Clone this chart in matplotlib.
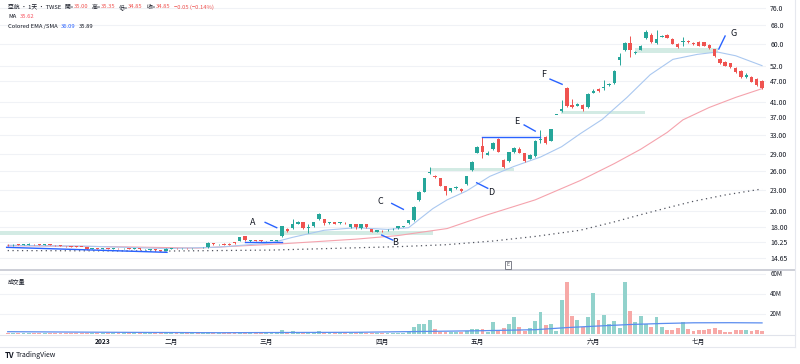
import matplotlib
matplotlib.use('Agg')
import matplotlib.pyplot as plt
from matplotlib.ticker import NullLocator
from matplotlib.patches import Rectangle
from matplotlib.lines import Line2D
import numpy as np

plt.rcParams['font.family'] = ['Noto Sans CJK TC', 'DejaVu Sans']

# daily candles (bar index 0 = mid December 2022)
opens = [16.00, 15.95, 16.00, 15.98, 16.00, 16.10, 16.05, 16.00, 16.05, 15.98,
         15.95, 15.88, 15.84, 15.80, 15.78, 15.74, 15.55, 15.62, 15.58, 15.60,
         15.58, 15.65, 15.62, 15.66, 15.55, 15.62, 15.52, 15.45, 15.52, 15.45,
         15.40, 15.58, 15.66, 15.64, 15.65, 15.62, 15.66, 15.65, 15.72, 16.15,
         16.05, 16.10, 16.12, 16.25, 16.45, 16.90, 16.35, 16.45, 16.50, 16.38,
         16.40, 16.42, 16.90, 17.75, 17.85, 18.35, 18.55, 17.85, 18.10, 18.90,
         18.95, 18.45, 18.55, 18.45, 18.50, 17.95, 18.30, 17.85, 18.35, 17.70,
         17.45, 17.55, 17.60, 17.70, 17.85, 18.00, 18.45, 18.80, 21.50, 22.70,
         25.60, 25.15, 24.85, 23.50, 22.80, 23.25, 23.10, 23.80, 26.15, 29.30,
         30.70, 28.95, 30.00, 32.00, 27.95, 27.75, 29.40, 30.00, 29.20, 28.20,
         28.60, 31.90, 32.60, 31.70, 37.60, 38.60, 45.00, 40.10, 40.00, 40.10,
         39.50, 43.50, 44.60, 44.90, 45.80, 46.30, 54.00, 57.60, 60.40, 56.40,
         57.80, 62.30, 63.60, 60.50, 63.00, 63.60, 62.00, 60.00, 60.70, 61.30,
         60.50, 60.60, 60.60, 59.60, 57.90, 54.30, 53.40, 52.80, 51.10, 50.20,
         48.30, 48.40, 47.50, 47.00]
highs = [16.05, 16.05, 16.05, 16.05, 16.15, 16.12, 16.08, 16.08, 16.06, 16.00,
         15.98, 15.90, 15.86, 15.82, 15.80, 15.76, 15.66, 15.64, 15.62, 15.62,
         15.68, 15.66, 15.68, 15.67, 15.62, 15.64, 15.60, 15.52, 15.54, 15.48,
         15.62, 15.70, 15.70, 15.68, 15.68, 15.68, 15.70, 15.72, 16.25, 16.18,
         16.12, 16.15, 16.20, 16.30, 16.85, 16.95, 16.55, 16.50, 16.55, 16.45,
         16.45, 16.48, 18.15, 17.85, 19.00, 18.70, 18.60, 18.30, 18.60, 19.70,
         19.00, 18.60, 18.60, 18.60, 18.55, 18.35, 18.35, 18.40, 18.40, 17.80,
         17.65, 17.60, 17.75, 17.85, 18.15, 18.10, 18.85, 20.60, 22.80, 24.90,
         26.70, 25.30, 24.90, 23.60, 23.30, 23.60, 23.20, 25.20, 27.70, 30.60,
         32.60, 29.60, 31.40, 32.20, 28.10, 29.50, 30.50, 30.40, 29.30, 29.00,
         31.80, 34.10, 32.80, 34.30, 37.60, 41.40, 45.20, 41.80, 40.80, 40.30,
         43.30, 44.60, 44.80, 47.40, 46.30, 50.40, 56.50, 60.80, 63.30, 57.40,
         59.60, 65.90, 64.50, 65.70, 63.80, 63.90, 62.30, 60.20, 62.60, 61.60,
         60.70, 61.00, 60.90, 59.90, 58.20, 54.60, 53.70, 53.00, 51.40, 50.50,
         49.50, 48.60, 47.80, 47.20]
lows = [15.90, 15.90, 15.95, 15.95, 15.98, 16.00, 15.98, 15.98, 15.95, 15.92,
        15.85, 15.80, 15.76, 15.75, 15.72, 15.50, 15.52, 15.55, 15.54, 15.55,
        15.56, 15.58, 15.60, 15.52, 15.53, 15.50, 15.50, 15.43, 15.38, 15.36,
        15.38, 15.55, 15.60, 15.60, 15.60, 15.60, 15.62, 15.62, 15.70, 16.02,
        16.00, 15.95, 15.98, 16.10, 16.40, 16.45, 16.30, 16.35, 16.32, 16.32,
        16.35, 16.38, 16.85, 17.45, 17.80, 18.30, 17.80, 17.30, 18.00, 18.85,
        18.20, 18.35, 18.35, 18.40, 18.35, 17.90, 17.70, 17.80, 17.90, 17.35,
        17.40, 17.40, 17.55, 17.65, 17.80, 17.95, 18.40, 18.70, 21.40, 22.60,
        25.50, 24.90, 23.50, 22.20, 22.70, 23.10, 22.70, 23.70, 26.00, 29.20,
        28.30, 28.80, 29.90, 29.40, 26.60, 27.60, 29.30, 29.20, 27.60, 28.10,
        28.50, 31.30, 31.00, 31.60, 37.60, 38.40, 39.70, 39.30, 39.80, 38.60,
        39.30, 43.30, 43.70, 44.30, 45.60, 46.10, 52.20, 57.40, 55.20, 56.00,
        57.50, 62.00, 60.50, 59.90, 62.70, 62.20, 59.80, 58.50, 59.30, 60.40,
        59.70, 59.10, 59.10, 58.00, 55.00, 52.50, 51.80, 51.10, 49.60, 48.10,
        48.00, 46.60, 45.60, 44.60]
closes = [15.95, 16.00, 15.98, 16.00, 16.12, 16.05, 16.00, 16.05, 15.98, 15.95,
          15.88, 15.84, 15.80, 15.78, 15.76, 15.55, 15.62, 15.58, 15.60, 15.58,
          15.65, 15.62, 15.66, 15.55, 15.60, 15.52, 15.58, 15.50, 15.42, 15.38,
          15.58, 15.66, 15.64, 15.65, 15.62, 15.66, 15.65, 15.70, 16.15, 16.05,
          16.08, 16.00, 16.02, 16.15, 16.80, 16.48, 16.50, 16.40, 16.35, 16.40,
          16.42, 16.45, 18.10, 17.55, 18.30, 18.55, 17.85, 17.95, 18.55, 19.55,
          18.45, 18.55, 18.40, 18.52, 18.42, 18.30, 17.95, 18.35, 17.95, 17.40,
          17.60, 17.48, 17.68, 17.78, 18.05, 18.05, 18.80, 20.50, 22.70, 24.85,
          25.87, 24.95, 23.55, 22.85, 23.25, 23.30, 22.85, 25.15, 27.60, 30.50,
          29.40, 29.35, 31.30, 29.50, 26.75, 29.40, 30.30, 29.35, 27.80, 28.80,
          31.70, 32.10, 31.25, 34.20, 37.60, 39.00, 39.90, 39.50, 40.40, 39.00,
          43.10, 44.10, 44.00, 45.30, 46.10, 50.20, 55.20, 60.50, 57.80, 57.00,
          59.30, 65.00, 60.90, 62.00, 63.30, 62.40, 60.00, 58.70, 61.00, 60.70,
          59.90, 59.30, 59.30, 58.30, 55.40, 52.80, 52.00, 51.40, 49.80, 48.40,
          48.90, 46.80, 45.80, 44.80]
# volume in millions of shares
volumes = [0.6, 0.5, 0.4, 0.5, 0.7, 0.5, 0.4, 0.5, 0.4, 0.4,
           0.5, 0.4, 0.4, 0.3, 0.3, 0.8, 0.5, 0.4, 0.3, 0.3,
           0.4, 0.3, 0.4, 0.5, 0.3, 0.5, 0.3, 0.4, 0.6, 0.6,
           0.7, 0.5, 0.3, 0.3, 0.3, 0.3, 0.3, 0.4, 1.5, 0.8,
           0.5, 0.6, 0.6, 0.7, 2.0, 1.5, 0.8, 0.5, 0.6, 0.4,
           0.4, 0.5, 3.5, 1.5, 2.5, 1.5, 2.0, 1.2, 1.2, 2.5,
           1.5, 0.8, 0.8, 0.7, 0.7, 0.8, 0.9, 1.6, 0.8, 0.9,
           0.6, 0.6, 0.5, 0.6, 0.6, 0.7, 1.7, 6.8, 10.0, 10.0,
           13.3, 4.9, 1.6, 1.6, 1.6, 1.6, 1.6, 2.6, 4.9, 4.2,
           4.2, 1.6, 11.4, 3.6, 5.2, 10.0, 17.0, 6.8, 2.6, 5.2,
           13.0, 21.5, 9.0, 10.0, 2.6, 33.5, 52.0, 18.0, 13.3, 6.5,
           16.3, 41.0, 14.0, 18.9, 9.8, 13.0, 5.2, 52.0, 23.0, 11.4,
           17.9, 9.8, 6.5, 17.0, 6.8, 3.6, 3.6, 5.2, 11.4, 4.9,
           2.6, 3.6, 3.6, 4.9, 5.9, 3.6, 2.0, 2.0, 3.3, 3.3,
           3.9, 2.6, 3.6, 2.6]

month_idx = [18, 31, 49, 71, 89, 111, 131]
month_labels = ['2023', '二月', '三月', '四月', '五月', '六月', '七月']

price_ticks = [14.65, 16.25, 18.0, 20.0, 23.0, 26.0, 29.0, 33.0, 37.0, 41.0, 47.0, 52.0, 60.0, 68.0, 76.0]
price_labels = ['14.65', '16.25', '18.00', '20.00', '23.00', '26.00', '29.00', '33.00',
                '37.00', '41.00', '47.00', '52.0', '60.0', '68.0', '76.0']
vol_ticks = [20, 40, 60]
vol_labels = ['20M', '40M', '60M']

# indicator lines
ema_idx = [0, 15, 30, 40, 50, 54, 60, 66, 72, 76, 80.6, 83.3, 87, 91.4, 96, 101, 105,
           108.5, 112.7, 117.4, 121.8, 126.1, 130.7, 134.5, 138, 143]
ema_vals = [15.95, 15.85, 15.6, 15.75, 16.2, 16.8, 17.6, 17.9, 17.7, 17.9, 20.3, 21.5, 22.8,
            25.1, 26.8, 28.5, 30.5, 33.2, 36.5, 42.2, 49.0, 54.2, 56.0, 56.9, 55.5, 52.0]
ma_idx = [0, 20, 36, 52, 66, 74, 83.3, 91, 100, 108.5, 115, 120, 125, 128, 133, 138, 143]
ma_vals = [15.9, 15.8, 15.65, 16.1, 16.6, 17.0, 17.8, 19.5, 21.5, 24.4, 27.3, 30.0, 33.5,
           36.4, 39.5, 42.2, 44.7]
slow_idx = [0, 30, 50, 74, 83, 92, 100, 108.5, 115, 120, 125, 130, 136, 143]
slow_vals = [15.4, 15.35, 15.45, 15.8, 16.0, 16.4, 16.9, 17.6, 18.6, 19.5, 20.4, 21.3, 22.2, 23.1]
vma_idx = [0, 20, 40, 52, 66, 78, 90, 100, 106, 112, 118, 124, 130, 137, 143]
vma_vals = [1.8, 1.2, 0.8, 1.0, 1.2, 2.0, 2.8, 3.8, 5.9, 7.5, 9.0, 10.0, 10.7, 10.8, 10.6]

# drawn zones / lines / labels
zone_x0 = [-1.5, 80, 104.8, 119]
zone_x1 = [80.6, 96, 120.8, 134.7]
zone_lo = [17.1, 26.0, 37.8, 56.4]
zone_hi = [17.55, 26.6, 38.7, 58.3]
trend_x = [[-0.2, 30.2], [45, 52], [90, 101]]
trend_y = [[15.73, 15.22], [16.3, 16.3], [32.6, 32.6]]
letters = ['A', 'B', 'C', 'D', 'E', 'F', 'G']
letter_x = [46.5, 73.4, 70.6, 91.6, 96.5, 101.5, 137.6]
letter_y = [18.54, 16.25, 21.33, 22.6, 36.1, 49.1, 64.3]
pointer_x = [[48.8, 51.0], [70.9, 73.0], [72.8, 75.0], [88.9, 91.0], [97.9, 100.0], [102.8, 105.1], [136.0, 134.8]]
pointer_y = [[18.54, 17.9], [17.05, 16.5], [21.0, 20.2], [24.06, 23.2], [35.2, 33.8], [47.6, 46.0], [63.2, 58.0]]

UP = '#26a69a'
DOWN = '#ef5350'
TXT = '#131722'
W, H = 800, 364
HDR = 4.2


def fx(x):
    return x / W


def fy(y):
    return 1 - y / H


fig = plt.figure(figsize=(8, 3.64), dpi=100)
ax = fig.add_axes([0, fy(268), fx(766), (268 - 2) / H])
axv = fig.add_axes([0, fy(333.5), fx(766), (333.5 - 271) / H], sharex=ax)

o = np.array(opens)
h = np.array(highs)
l = np.array(lows)
c = np.array(closes)
idx = np.arange(len(c))
up = c >= o
cols = np.where(up, UP, DOWN)

ax.set_yscale('log')
for x0, x1, lo, hi in zip(zone_x0, zone_x1, zone_lo, zone_hi):
    ax.add_patch(Rectangle((x0, lo), x1 - x0, hi - lo, facecolor='#d3ebe4', edgecolor='none', zorder=1))

ax.plot(slow_idx, slow_vals, color='#50535e', lw=0.9, linestyle=(0, (1, 2.8)), zorder=2)
ax.plot(ma_idx, ma_vals, color='#f5a3ad', lw=0.8, zorder=2)
ax.plot(ema_idx, ema_vals, color='#aac8f0', lw=0.8, zorder=2)

body_lo = np.minimum(o, c)
body_h = np.maximum(np.abs(c - o), body_lo * 0.004)
ax.vlines(idx, l, h, colors=cols, lw=0.7, zorder=3)
ax.bar(idx, body_h, bottom=body_lo, width=0.64, color=cols, linewidth=0, zorder=4)

for xs, ys in zip(trend_x, trend_y):
    ax.plot(xs, ys, color='#2962ff', lw=1.0, zorder=5)
for xs, ys in zip(pointer_x, pointer_y):
    ax.plot(xs, ys, color='#2962ff', lw=1.0, zorder=5)
for t, x, y in zip(letters, letter_x, letter_y):
    ax.text(x, y, t, fontsize=6.5, color=TXT, ha='center', va='center', zorder=6)

ax.set_xlim(-1.46, 143.75)
ax.set_ylim(13.73, 79.06)
ax.yaxis.set_minor_locator(NullLocator())
ax.set_yticks(price_ticks)
ax.set_yticklabels(price_labels)
ax.yaxis.tick_right()
ax.tick_params(axis='y', length=0, pad=3, labelsize=5, labelcolor=TXT)
ax.tick_params(axis='x', length=0, labelbottom=False)
ax.grid(axis='y', color='#f0f2f6', lw=0.8)
for s in ax.spines.values():
    s.set_visible(False)

# volume pane
vcols = np.where(up, '#92d2cc', '#f7a9a7')
axv.bar(idx, volumes, width=0.74, color=vcols, linewidth=0, zorder=2)
axv.plot(vma_idx, vma_vals, color='#5b8def', lw=0.9, zorder=3)
axv.set_ylim(0, 62.5)
axv.set_yticks(vol_ticks)
axv.set_yticklabels(vol_labels)
axv.yaxis.tick_right()
axv.tick_params(axis='y', length=0, pad=3, labelsize=4.5, labelcolor=TXT)
axv.grid(axis='y', color='#f0f2f6', lw=0.8)
axv.set_xticks(month_idx)
axv.set_xticklabels(month_labels)
axv.tick_params(axis='x', length=0, pad=3.5, labelsize=4.8, labelcolor=TXT)
axv.get_xticklabels()[0].set_fontweight('bold')
for s in axv.spines.values():
    s.set_visible(False)

# pane separators and frame
fig.add_artist(Line2D([0, fx(795)], [fy(270), fy(270)], color='#c9ccd4', lw=1.3))
fig.add_artist(Line2D([0, fx(795)], [fy(334.5), fy(334.5)], color='#e0e3eb', lw=0.8))
fig.add_artist(Line2D([fx(795), fx(795)], [fy(0), fy(347)], color='#e6e8ee', lw=0.8))
fig.add_artist(Line2D([0, fx(795)], [fy(347), fy(347)], color='#e6e8ee', lw=0.8))


def legend_row(x, y, parts):
    # parts: (text, colour, gap in points before it); each piece follows the previous one
    t = fig.text(fx(x), fy(y), parts[0][0], fontsize=HDR, color=parts[0][1], va='center')
    for s, col, gap in parts[1:]:
        t = ax.annotate(s, xy=(1, 0.5), xycoords=t, xytext=(gap, 0), textcoords='offset points',
                        fontsize=HDR, color=col, ha='left', va='center', annotation_clip=False)


legend_row(8, 7, [('亞航 · 1天 · TWSE', TXT, 0), ('開=', TXT, 2.5), ('35.00', DOWN, 0),
                  ('高=', TXT, 2.5), ('35.35', DOWN, 0), ('低=', TXT, 2.5), ('34.85', DOWN, 0),
                  ('收=', TXT, 2.5), ('34.85', DOWN, 0), ('−0.05 (−0.14%)', DOWN, 2.5)])
legend_row(8, 17, [('MA', TXT, 0), ('35.62', '#f7525f', 2.5)])
legend_row(8, 26.5, [('Colored EMA /SMA', TXT, 0), ('36.09', '#2962ff', 2.5), ('35.89', TXT, 2.5)])
legend_row(8, 281, [('成交量', TXT, 0), ('302.55K', '#f7525f', 2.5), ('3.55M', '#2962ff', 2.5)])

fig.text(fx(508), fy(265), 'E', fontsize=3.8, color='#50535e', ha='center', va='center',
         bbox=dict(boxstyle='square,pad=0.35', fc='white', ec='#6a6d78', lw=0.6))

fig.text(fx(5), fy(355), 'TV', fontsize=5.5, fontweight='bold', color=TXT, va='center')
fig.text(fx(16), fy(355), 'TradingView', fontsize=5, color=TXT, va='center')

fig.savefig('out.png', dpi=100, facecolor='white')
